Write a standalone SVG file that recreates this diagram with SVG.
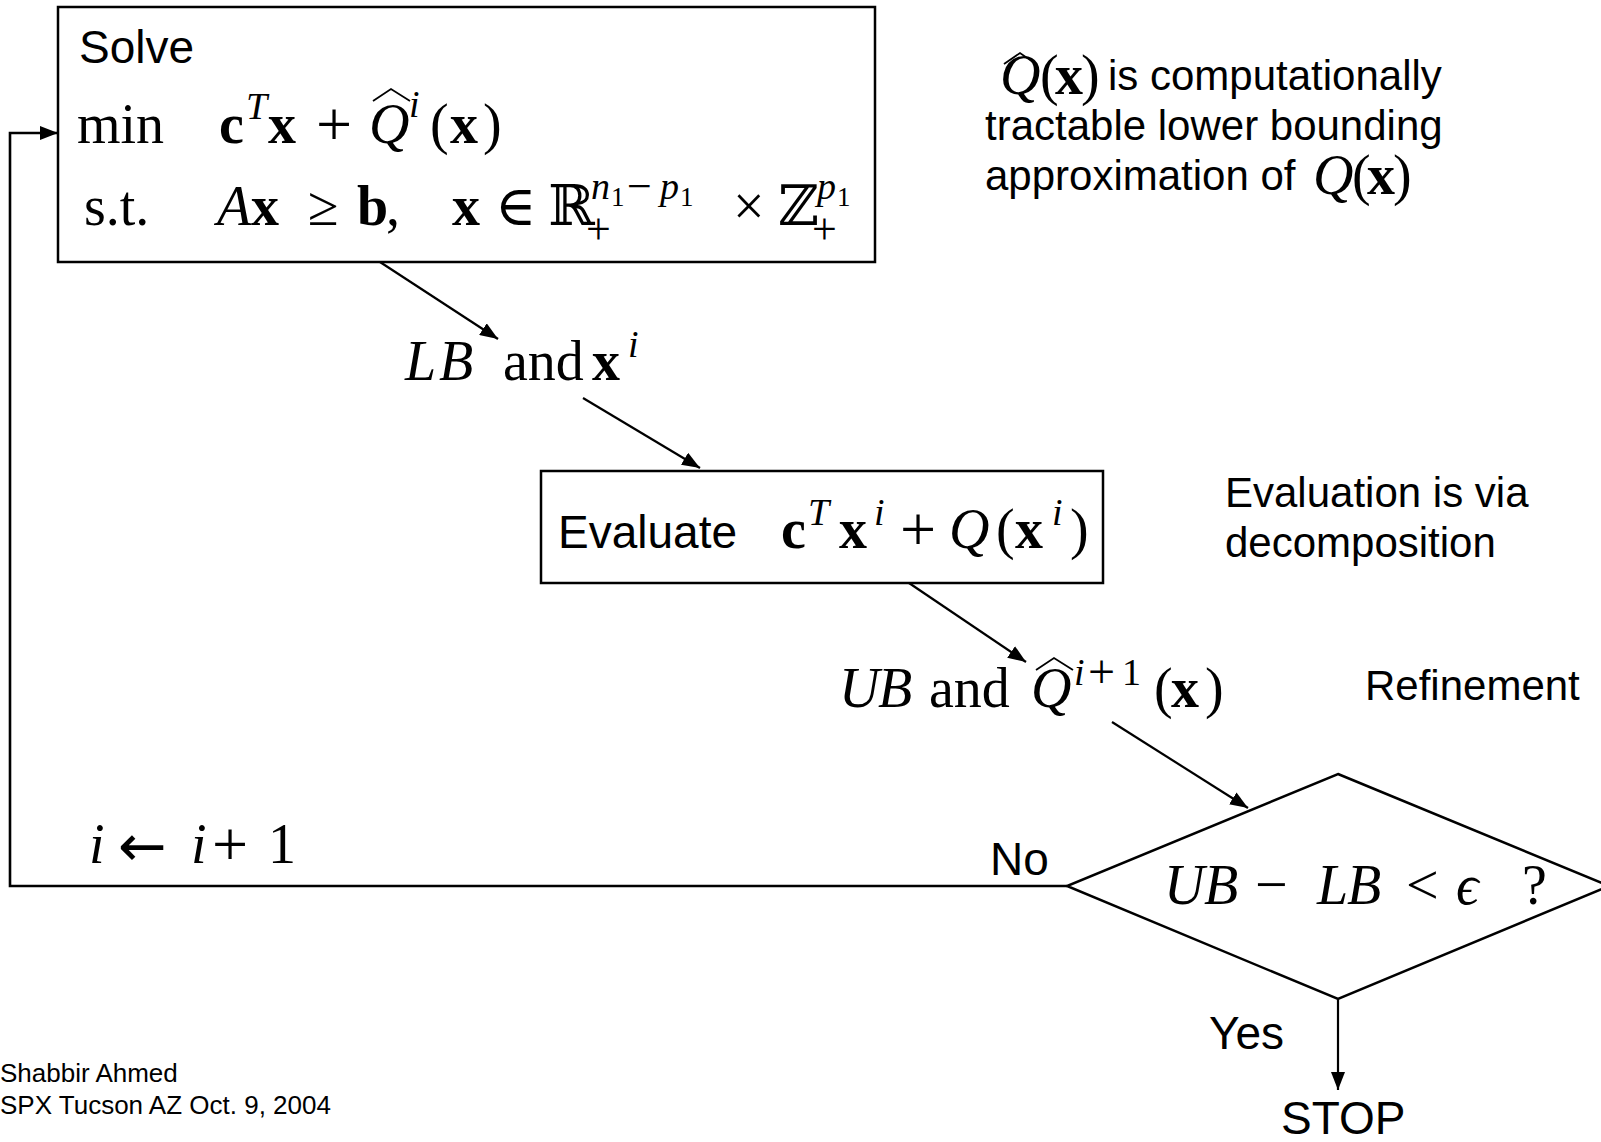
<svg xmlns="http://www.w3.org/2000/svg" width="1601" height="1142" viewBox="0 0 1601 1142">
<defs>
<marker id="ah" markerUnits="userSpaceOnUse" markerWidth="18" markerHeight="14" refX="18" refY="7" orient="auto">
<path d="M0,0 L18,7 L0,14 z" fill="#000"/>
</marker>
<style>
.sans{font-family:"Liberation Sans",Arial,sans-serif;fill:#000}
.m{font-family:"Liberation Serif","DejaVu Serif",serif;fill:#000;font-size:56px}
.op{font-style:normal;font-weight:normal;font-size:64px}
.arr{font-family:"DejaVu Sans",sans-serif;font-style:normal;font-size:58px}
.it{font-style:italic}
.bf{font-weight:bold}
.sup{font-size:38px}
.sop{font-size:48px}
.ss{font-size:27px}
.box{fill:#fff;stroke:#000;stroke-width:2.5}
.conn{fill:none;stroke:#000;stroke-width:2.2}
.hat{fill:none;stroke:#000;stroke-width:1.8}
</style>
</defs>
<rect width="1601" height="1142" fill="#fff"/>

<g id="connectors">
<line class="conn" x1="380" y1="262" x2="498" y2="339" marker-end="url(#ah)"/>
<line class="conn" x1="583" y1="398" x2="700" y2="468" marker-end="url(#ah)"/>
<line class="conn" x1="909" y1="583" x2="1026" y2="662" marker-end="url(#ah)"/>
<line class="conn" x1="1112" y1="722" x2="1248" y2="808" marker-end="url(#ah)"/>
<line class="conn" x1="1338" y1="999" x2="1338" y2="1090" marker-end="url(#ah)"/>
<polyline class="conn" style="stroke-width:2.6" points="1067,886 10,886 10,133 58,133" marker-end="url(#ah)"/>
</g>

<g id="solve">
<rect class="box" x="58" y="7" width="817" height="255"/>
<text class="sans" x="79" y="63" font-size="46">Solve</text>
<text class="m" y="143"><tspan x="77">min</tspan><tspan class="bf" x="219">c</tspan><tspan class="it sup" x="246" y="119">T</tspan><tspan class="bf" x="268" y="143">x</tspan><tspan class="op" x="316" y="146">+</tspan><tspan class="it" x="369" y="143">Q</tspan><tspan class="it sup" x="409" y="117">i</tspan><tspan x="430" y="143">(</tspan><tspan class="bf" x="450">x</tspan><tspan x="483">)</tspan></text>
<polyline class="hat" points="373,101 391,89 410,101"/>
<text class="m" y="225"><tspan x="84">s.t.</tspan><tspan class="it" x="217">A</tspan><tspan class="bf" x="251">x</tspan><tspan x="308">≥</tspan><tspan class="bf" x="357">b</tspan><tspan x="386">,</tspan><tspan class="bf" x="452">x</tspan><tspan x="495">∈</tspan><tspan x="548">ℝ</tspan><tspan class="it sup" x="591" y="199">n</tspan><tspan class="ss" x="611" y="206">1</tspan><tspan class="sop" x="627" y="201" style="font-size:44px">−</tspan><tspan class="it sup" x="660" y="199">p</tspan><tspan class="ss" x="680" y="206">1</tspan><tspan class="sop" x="586" y="244" style="font-size:44px">+</tspan><tspan x="733" y="225">×</tspan><tspan x="778">ℤ</tspan><tspan class="it sup" x="817" y="199">p</tspan><tspan class="ss" x="837" y="206">1</tspan><tspan class="sop" x="812" y="244" style="font-size:44px">+</tspan></text>
</g>

<g id="lb">
<text class="m" y="380"><tspan class="it" x="405">L</tspan><tspan class="it" x="439">B</tspan><tspan x="503">and</tspan><tspan class="bf" x="592">x</tspan><tspan class="it sup" x="628" y="357">i</tspan></text>
</g>

<g id="evaluate">
<rect class="box" x="541" y="471" width="562" height="112"/>
<text class="sans" x="558" y="548" font-size="46">Evaluate</text>
<text class="m" y="548"><tspan class="bf" x="781">c</tspan><tspan class="it sup" x="808" y="525">T</tspan><tspan class="bf" x="839" y="548">x</tspan><tspan class="it sup" x="874" y="525">i</tspan><tspan class="op" x="900" y="551">+</tspan><tspan class="it" x="949" y="548">Q</tspan><tspan x="996">(</tspan><tspan class="bf" x="1015">x</tspan><tspan class="it sup" x="1052" y="525">i</tspan><tspan x="1070" y="548">)</tspan></text>
</g>

<g id="ub">
<text class="m" y="707" font-size="54"><tspan class="it" x="839">U</tspan><tspan class="it" x="878">B</tspan><tspan x="929">and</tspan><tspan class="it" x="1031">Q</tspan><tspan class="it sup" x="1074" y="685">i</tspan><tspan class="sop" x="1088" y="688">+</tspan><tspan class="sup" x="1122" y="685">1</tspan><tspan x="1154" y="707">(</tspan><tspan class="bf" x="1171">x</tspan><tspan x="1205">)</tspan></text>
<polyline class="hat" points="1036,670 1054,658 1073,670"/>
</g>

<g id="decision">
<polygon class="box" points="1338,774 1609,886 1338,999 1067,886"/>
<text class="m" y="904" font-size="54"><tspan class="it" x="1164">U</tspan><tspan class="it" x="1204">B</tspan><tspan class="op" x="1255" style="font-size:58px">−</tspan><tspan class="it" x="1317">L</tspan><tspan class="it" x="1347">B</tspan><tspan class="op" x="1406" style="font-size:58px">&lt;</tspan><tspan class="it" x="1456">ϵ</tspan><tspan x="1522">?</tspan></text>
</g>

<g id="labels">
<text class="m" y="863"><tspan class="it" x="89">i</tspan><tspan class="arr" x="118" y="866">←</tspan><tspan class="it" x="191" y="863">i</tspan><tspan class="op" x="212" y="866">+</tspan><tspan x="268" y="863">1</tspan></text>
<text class="sans" x="990" y="875" font-size="46">No</text>
<text class="sans" x="1209" y="1049" font-size="46">Yes</text>
<text class="sans" x="1281" y="1134" font-size="46">STOP</text>
<text class="sans" x="1365" y="700" font-size="42">Refinement</text>
</g>

<g id="note-approx">
<text class="m" y="94" font-size="42"><tspan class="it" x="1000">Q</tspan><tspan x="1040">(</tspan><tspan class="bf" x="1055">x</tspan><tspan x="1081">)</tspan></text>
<polyline class="hat" points="1004,64 1020,53 1036,64"/>
<text class="sans" x="1108" y="90" font-size="42">is computationally</text>
<text class="sans" x="985" y="140" font-size="42">tractable lower bounding</text>
<text class="sans" x="985" y="190" font-size="42">approximation of</text>
<text class="m" y="194" font-size="42"><tspan class="it" x="1313">Q</tspan><tspan x="1352">(</tspan><tspan class="bf" x="1367">x</tspan><tspan x="1393">)</tspan></text>
</g>

<g id="note-eval">
<text class="sans" x="1225" y="507" font-size="42">Evaluation is via</text>
<text class="sans" x="1225" y="557" font-size="42">decomposition</text>
</g>

<g id="footer">
<text class="sans" x="0" y="1082" font-size="26">Shabbir Ahmed</text>
<text class="sans" x="0" y="1114" font-size="26">SPX Tucson AZ Oct. 9, 2004</text>
</g>
</svg>
